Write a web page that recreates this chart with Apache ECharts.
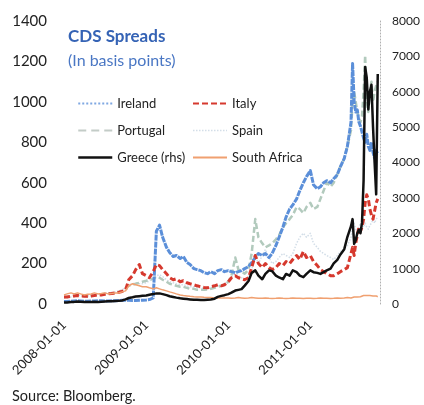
<!DOCTYPE html>
<html>
<head>
<meta charset="utf-8">
<script src="https://cdn.jsdelivr.net/npm/echarts@6/dist/echarts.min.js"></script>
<style>
  html, body { margin: 0; padding: 0; background: #fff; }
  #chart { width: 424px; height: 405px; }
</style>
</head>
<body>
<div id="chart"></div>
<script>
// Observation dates: twice a month up to mid-2011, then weekly
const dates = [
  '2008-01-01','2008-01-15','2008-02-01','2008-02-15','2008-03-01','2008-03-15','2008-04-01','2008-04-15',
  '2008-05-01','2008-05-15','2008-06-01','2008-06-15','2008-07-01','2008-07-15','2008-08-01','2008-08-15',
  '2008-09-01','2008-09-15','2008-10-01','2008-10-15','2008-11-01','2008-11-15','2008-12-01','2008-12-15',
  '2009-01-01','2009-01-15','2009-02-01','2009-02-15','2009-03-01','2009-03-15','2009-04-01','2009-04-15',
  '2009-05-01','2009-05-15','2009-06-01','2009-06-15','2009-07-01','2009-07-15','2009-08-01','2009-08-15',
  '2009-09-01','2009-09-15','2009-10-01','2009-10-15','2009-11-01','2009-11-15','2009-12-01','2009-12-15',
  '2010-01-01','2010-01-15','2010-02-01','2010-02-15','2010-03-01','2010-03-15','2010-04-01','2010-04-15',
  '2010-05-01','2010-05-15','2010-06-01','2010-06-15','2010-07-01','2010-07-15','2010-08-01','2010-08-15',
  '2010-09-01','2010-09-15','2010-10-01','2010-10-15','2010-11-01','2010-11-15','2010-12-01','2010-12-15',
  '2011-01-01','2011-01-15','2011-02-01','2011-02-15','2011-03-01','2011-03-15','2011-04-01','2011-04-15',
  '2011-05-01','2011-05-15','2011-06-01','2011-06-15',
  '2011-07-01','2011-07-08','2011-07-15','2011-07-22','2011-07-29','2011-08-05','2011-08-12','2011-08-19',
  '2011-08-26','2011-09-02','2011-09-09','2011-09-16','2011-09-23','2011-09-30','2011-10-07','2011-10-14',
  '2011-10-21','2011-10-28'
];

// CDS spreads, basis points (left axis)
const ireland = [
  12,12,14,15,16,15,14,14,15,15,16,16,15,15,16,16,17,18,18,18,17,17,18,19,
  20,22,30,360,390,330,280,255,235,240,225,235,205,195,175,170,165,155,150,160,150,165,170,160,
  165,160,155,160,165,175,185,205,230,250,240,250,230,250,290,330,380,430,470,490,520,560,600,630,
  660,590,570,580,600,610,600,620,640,680,720,780,
  900,1190,1000,950,960,900,880,850,820,800,840,780,760,800,750,720,760,740
];
const italy = [
  35,35,38,40,42,40,38,38,40,42,45,45,48,50,52,55,58,62,70,120,140,170,195,150,
  140,130,160,195,190,170,150,130,120,125,110,115,105,100,95,90,85,82,80,85,90,95,90,95,
  110,130,140,130,125,120,130,180,240,200,180,200,180,170,180,200,190,210,200,220,240,220,260,230,
  240,210,190,170,160,150,140,140,150,160,170,180,
  250,280,240,300,340,380,360,380,420,500,540,520,470,440,420,460,500,520
];
const portugal = [
  35,35,38,40,45,42,40,38,40,42,45,48,50,50,52,55,60,65,80,90,95,100,105,110,
  115,120,125,135,130,120,110,100,95,90,85,85,80,75,75,70,70,70,72,75,80,85,90,95,
  110,140,230,170,160,150,170,250,420,330,300,280,290,300,320,340,380,400,420,440,480,470,450,480,
  500,470,480,520,560,600,580,600,640,680,720,780,
  860,1000,1050,1000,950,920,900,930,1050,1230,1000,950,1050,1100,1000,1050,1080,1100
];
const spain = [
  30,32,35,38,45,42,40,40,42,45,48,50,55,55,58,60,65,70,80,95,100,105,100,100,
  105,115,125,140,145,135,120,110,105,100,95,95,90,85,85,80,80,78,80,82,85,90,95,100,
  110,130,160,140,130,125,130,170,240,200,240,270,230,200,210,230,250,240,230,250,300,330,350,330,
  350,300,280,260,250,240,230,220,240,260,270,290,
  330,380,400,370,360,380,400,390,380,400,380,370,390,400,420,400,420,430
];
const southAfrica = [
  45,50,55,50,55,50,45,48,50,55,50,52,55,50,52,55,55,60,65,90,100,95,90,85,
  85,80,75,80,75,70,65,60,55,50,45,42,40,38,36,35,35,33,32,32,30,30,30,30,
  30,28,30,32,30,28,30,32,30,28,28,30,28,27,28,30,28,27,28,30,28,28,27,28,
  28,27,28,30,28,28,27,28,30,28,30,32,
  30,32,35,38,35,34,36,38,42,45,42,40,42,44,40,38,40,36
];
// Greece, basis points (right-hand axis)
const greece = [
  40,45,55,60,70,65,60,55,60,65,60,65,70,75,80,85,90,100,130,170,190,210,220,230,
  240,260,280,300,300,280,250,220,200,180,160,150,140,130,120,120,115,110,120,130,150,200,230,250,
  280,320,380,400,420,520,650,880,950,800,700,850,950,930,800,750,700,850,800,950,900,800,760,850,
  950,900,880,850,900,950,1000,1150,1250,1400,1550,1900,
  2200,2400,1700,1800,2000,2100,2000,2300,3500,6700,6400,5500,6000,6200,5000,4000,3100,6500
];

const FONT = 'Lato, "Open Sans", sans-serif';
const TEXT = '#222';

function pairs(vals) {
  return dates.map((d, i) => [d, vals[i]]);
}
function line(name, vals, color, width, type, axis) {
  return {
    name: name,
    type: 'line',
    yAxisIndex: axis,
    data: pairs(vals),
    symbol: 'none',
    showSymbol: false,
    lineStyle: { color: color, width: width, type: type, cap: 'butt', join: 'round' },
    itemStyle: { color: color }
  };
}
const plain = v => String(v);

const legendBase = {
  orient: 'vertical', top: 97, padding: 0,
  itemWidth: 34, itemHeight: 12, itemGap: 14,
  itemStyle: { opacity: 0 },
  textStyle: { fontSize: 13, color: TEXT, fontFamily: FONT }
};

const chart = echarts.init(document.getElementById('chart'), null, { renderer: 'canvas' });
chart.setOption({
  animation: false,
  textStyle: { fontFamily: FONT },
  title: {
    text: 'CDS Spreads',
    subtext: '(In basis points)',
    left: 68,
    top: 28,
    padding: 0,
    itemGap: 8,
    textStyle: { fontSize: 17, fontWeight: 'bold', color: '#3563b5', fontFamily: FONT },
    subtextStyle: { fontSize: 16, color: '#4a77c4', fontFamily: FONT }
  },
  legend: [
    Object.assign({}, legendBase, {
      left: 77,
      data: [
        { name: 'Ireland', lineStyle: { width: 2, type: 'dotted', color: '#7fa8e2' } },
        { name: 'Portugal', lineStyle: { width: 2, type: [8, 5], color: '#c3ccc7' } },
        { name: 'Greece (rhs)', lineStyle: { width: 2.5 } }
      ]
    }),
    Object.assign({}, legendBase, {
      left: 192,
      data: [
        { name: 'Italy', lineStyle: { width: 2, type: [6, 3] } },
        { name: 'Spain', lineStyle: { width: 1.5 } },
        { name: 'South Africa', lineStyle: { width: 2 } }
      ]
    })
  ],
  grid: { left: 64, right: 44, top: 21, bottom: 101 },
  xAxis: {
    type: 'time',
    min: '2008-01-01',
    max: '2011-11-07',
    axisLine: { show: false },
    axisTick: { show: false },
    splitLine: { show: false },
    axisLabel: {
      rotate: 45,
      fontSize: 13,
      color: TEXT,
      fontFamily: FONT,
      margin: 19,
      hideOverlap: false,
      formatter: function (value) {
        const d = new Date(value);
        if (d.getMonth() === 0 && d.getDate() === 1) {
          return d.getFullYear() + '-01-01';
        }
        return '';
      }
    }
  },
  yAxis: [
    {
      type: 'value', position: 'left', min: 0, max: 1400, interval: 200,
      axisLine: { show: false }, axisTick: { show: false }, splitLine: { show: false },
      axisLabel: { fontSize: 15, color: TEXT, fontFamily: FONT, margin: 17, formatter: plain }
    },
    {
      type: 'value', position: 'right', min: 0, max: 8000, interval: 1000,
      axisLine: { show: true, lineStyle: { color: '#b0b0b0', width: 1, type: [1, 2] } },
      axisTick: { show: false }, splitLine: { show: false },
      axisLabel: { fontSize: 12, color: TEXT, fontFamily: FONT, margin: 12, formatter: plain }
    }
  ],
  graphic: [
    {
      type: 'text', left: 12, top: 389,
      style: { text: 'Source: Bloomberg.', fontSize: 14.5, fontFamily: FONT, fill: TEXT }
    }
  ],
  series: [
    line('Spain', spain, '#d3dee8', 1.5, 'dotted', 0),
    line('Portugal', portugal, '#b2cabd', 2.5, [6, 3], 0),
    line('Ireland', ireland, '#5b8fd9', 3, [6, 1], 0),
    line('Italy', italy, '#d6392e', 3, [6, 3], 0),
    line('South Africa', southAfrica, '#f0a070', 1.5, 'solid', 0),
    line('Greece (rhs)', greece, '#111111', 2.5, 'solid', 1)
  ]
});
</script>
</body>
</html>
